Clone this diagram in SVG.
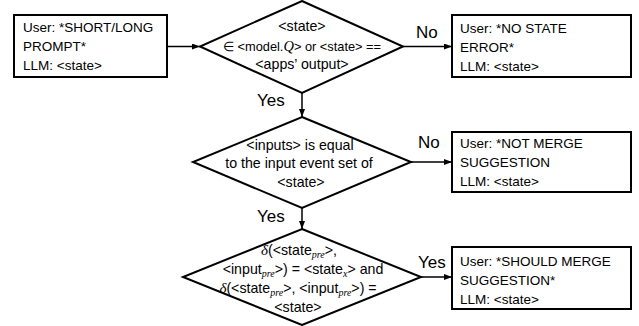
<svg xmlns="http://www.w3.org/2000/svg" width="639" height="326" viewBox="0 0 639 326">
<defs>
<marker id="ah" markerWidth="8" markerHeight="6" refX="8" refY="3" orient="auto" markerUnits="userSpaceOnUse">
<path d="M0,0 L8,3 L0,6 z" fill="#000"/>
</marker>
<style>
.shape{fill:#fff;stroke:#000;stroke-width:2}
.box{font-family:"Liberation Sans",Arial,sans-serif;font-size:13.5px;fill:#000}
.dt{font-family:"Liberation Sans",Arial,sans-serif;font-size:14.2px;fill:#000;text-anchor:middle}
.lbl{font-family:"Liberation Sans",Arial,sans-serif;font-size:17px;fill:#000}
.m{font-family:"Liberation Serif","Times New Roman",serif;font-style:italic;font-size:15px}
.sub{font-family:"Liberation Serif","Times New Roman",serif;font-style:italic;font-size:10px}
.conn{stroke:#000;stroke-width:1.5;fill:none;marker-end:url(#ah)}
</style>
</defs>
<rect width="639" height="326" fill="#fff"/>
<g id="connectors">
<line class="conn" x1="167" y1="46.5" x2="200" y2="46.5"/>
<line class="conn" x1="403" y1="46.5" x2="452" y2="46.5"/>
<line class="conn" x1="302" y1="93" x2="302" y2="117"/>
<line class="conn" x1="411" y1="162" x2="452" y2="162"/>
<line class="conn" x1="302" y1="208" x2="302" y2="229"/>
<line class="conn" x1="421" y1="277" x2="452" y2="277"/>
<text class="lbl" x="416" y="38">No</text>
<text class="lbl" x="257" y="106">Yes</text>
<text class="lbl" x="418" y="148">No</text>
<text class="lbl" x="257" y="222">Yes</text>
<text class="lbl" x="418" y="268">Yes</text>
</g>
<g id="box-prompt">
<rect class="shape" x="14" y="15" width="153" height="62"/>
<text class="box" x="23" y="32">User: *SHORT/LONG</text>
<text class="box" x="23" y="51">PROMPT*</text>
<text class="box" x="23" y="70">LLM: &lt;state&gt;</text>
</g>
<g id="decision-state">
<polygon class="shape" points="302,1 403,46.5 302,93 200,46.5"/>
<text class="dt" x="302" y="31">&lt;state&gt;</text>
<text class="dt" x="302" y="51" style="font-size:12.8px">∈ &lt;model.<tspan class="m" style="font-size:14.5px">Q</tspan>&gt; or &lt;state&gt; ==</text>
<text class="dt" x="302" y="69">&lt;apps’ output&gt;</text>
</g>
<g id="box-nostate">
<rect class="shape" x="452" y="15" width="179" height="62"/>
<text class="box" x="460" y="33">User: *NO STATE</text>
<text class="box" x="460" y="52">ERROR*</text>
<text class="box" x="460" y="71">LLM: &lt;state&gt;</text>
</g>
<g id="decision-inputs">
<polygon class="shape" points="302,117 411,162 302,208 193,162"/>
<text class="dt" x="300" y="150">&lt;inputs&gt; is equal</text>
<text class="dt" x="299" y="168">to the input event set of</text>
<text class="dt" x="301" y="187">&lt;state&gt;</text>
</g>
<g id="box-notmerge">
<rect class="shape" x="452" y="132" width="179" height="60"/>
<text class="box" x="460" y="148">User: *NOT MERGE</text>
<text class="box" x="460" y="167">SUGGESTION</text>
<text class="box" x="460" y="186">LLM: &lt;state&gt;</text>
</g>
<g id="decision-delta">
<polygon class="shape" points="302,229 421,277 302,325 183,277"/>
<text class="dt" x="299" y="255"><tspan class="m">δ</tspan>(&lt;state<tspan class="sub" dy="3">pre</tspan><tspan dy="-3">&gt;,</tspan></text>
<text class="dt" x="303" y="274">&lt;input<tspan class="sub" dy="3">pre</tspan><tspan dy="-3">&gt;) = &lt;state</tspan><tspan class="sub" dy="3">x</tspan><tspan dy="-3">&gt; and</tspan></text>
<text class="dt" x="298" y="293"><tspan class="m">δ</tspan>(&lt;state<tspan class="sub" dy="3">pre</tspan><tspan dy="-3">&gt;, &lt;input</tspan><tspan class="sub" dy="3">pre</tspan><tspan dy="-3">&gt;) =</tspan></text>
<text class="dt" x="298" y="312">&lt;state&gt;</text>
</g>
<g id="box-shouldmerge">
<rect class="shape" x="452" y="247" width="179" height="62"/>
<text class="box" x="460" y="266">User: *SHOULD MERGE</text>
<text class="box" x="460" y="285">SUGGESTION*</text>
<text class="box" x="460" y="304">LLM: &lt;state&gt;</text>
</g>
</svg>
